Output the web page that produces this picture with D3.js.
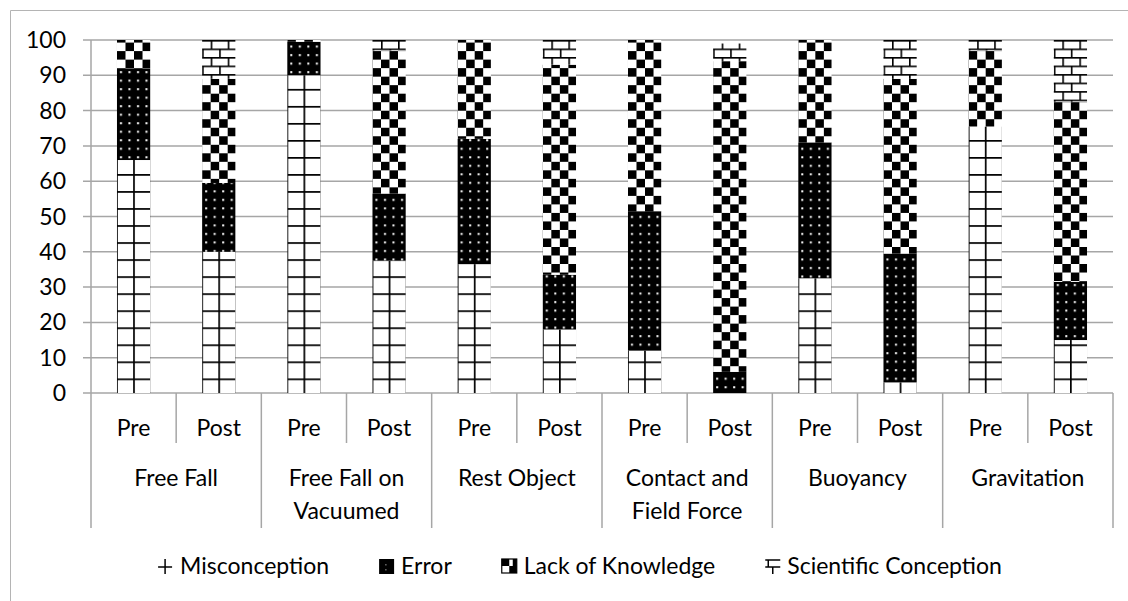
<!DOCTYPE html>
<html><head><meta charset="utf-8">
<script src="https://cdn.jsdelivr.net/npm/d3@7"></script>
<style>html,body{margin:0;padding:0;background:#fff;} svg{display:block;}</style>
</head><body>
<svg id="chart" width="1128" height="601"></svg>
<script>
// ---- data ----
const groups = ["Free Fall", "Free Fall on\nVacuumed", "Rest Object", "Contact and\nField Force", "Buoyancy", "Gravitation"];
const phases = ["Pre", "Post"];
const seriesNames = ["Misconception", "Error", "Lack of Knowledge", "Scientific Conception"];
const misconception = [66, 40, 90, 37.5, 36.5, 18, 12, 0, 32.5, 3, 75.5, 15];
const error =         [26, 19.5, 9.5, 19, 35.5, 15.5, 39.5, 6, 38.5, 36.5, 0, 16.5];
const lackKnowledge = [8, 29.5, 0.5, 40.5, 28, 59.5, 48.5, 88, 29, 49.5, 21.5, 51];
const scientific =    [0, 11, 0, 3, 0, 7, 0, 5, 0, 11, 3, 17.5];
const yTicks = [0, 10, 20, 30, 40, 50, 60, 70, 80, 90, 100];

// ---- layout ----
const FONT = "Lato, 'Open Sans', sans-serif";
const FS = 23;
const plot = {left: 91, right: 1113, top: 40, bottom: 393};
const gridCol = "#a6a6a6";

const svg = d3.select("#chart");
const slots = [];
groups.forEach((g, gi) => phases.forEach((p, pi) => slots.push({g: gi, p: p, key: gi + "-" + p})));
const rows = slots.map((s, i) => ({
  key: s.key, phase: s.p, group: s.g,
  "Misconception": misconception[i], "Error": error[i],
  "Lack of Knowledge": lackKnowledge[i], "Scientific Conception": scientific[i]
}));

const x = d3.scaleBand().domain(slots.map(s => s.key)).range([plot.left, plot.right])
  .paddingInner(0.61).paddingOuter(0.305);
const y = d3.scaleLinear().domain([0, 100]).range([plot.bottom, plot.top]);
const step = x.step();
const firstLeft = x(slots[0].key);
const P = step / 5; // pattern period

// ---- patterns ----
const defs = svg.append("defs");
const pm = defs.append("pattern").attr("id", "pMis").attr("patternUnits", "userSpaceOnUse")
  .attr("width", P).attr("height", P).attr("x", firstLeft + P - 0.85).attr("y", 379.3 - 0.85);
pm.append("rect").attr("width", P).attr("height", P).attr("fill", "#fff");
pm.append("rect").attr("x", 0).attr("y", 0).attr("width", 1.7).attr("height", P).attr("fill", "#000");
pm.append("rect").attr("x", 0).attr("y", 0).attr("width", P).attr("height", 1.7).attr("fill", "#000");
const pe = defs.append("pattern").attr("id", "pErr").attr("patternUnits", "userSpaceOnUse")
  .attr("width", P / 2).attr("height", P / 2).attr("x", firstLeft).attr("y", 0);
pe.append("rect").attr("width", P / 2).attr("height", P / 2).attr("fill", "#000");
pe.append("rect").attr("x", 3).attr("y", 3).attr("width", 2).attr("height", 2).attr("fill", "#fff");
const pl = defs.append("pattern").attr("id", "pLack").attr("patternUnits", "userSpaceOnUse")
  .attr("width", P).attr("height", P).attr("x", firstLeft).attr("y", 0);
pl.append("rect").attr("width", P).attr("height", P).attr("fill", "#fff");
pl.append("rect").attr("x", 0).attr("y", 0).attr("width", P / 2).attr("height", P / 2).attr("fill", "#000");
pl.append("rect").attr("x", P / 2).attr("y", P / 2).attr("width", P / 2).attr("height", P / 2).attr("fill", "#000");
const pb = defs.append("pattern").attr("id", "pSci").attr("patternUnits", "userSpaceOnUse")
  .attr("width", P).attr("height", P).attr("x", firstLeft + P / 2).attr("y", 40);
pb.append("rect").attr("width", P).attr("height", P).attr("fill", "#fff");
pb.append("rect").attr("x", 0).attr("y", 0).attr("width", P).attr("height", 1.6).attr("fill", "#000");
pb.append("rect").attr("x", 0).attr("y", P / 2).attr("width", P).attr("height", 1.6).attr("fill", "#000");
pb.append("rect").attr("x", 0).attr("y", 0).attr("width", 1.6).attr("height", P / 2).attr("fill", "#000");
pb.append("rect").attr("x", P / 2).attr("y", P / 2).attr("width", 1.6).attr("height", P / 2).attr("fill", "#000");

const fills = {"Misconception": "url(#pMis)", "Error": "url(#pErr)", "Lack of Knowledge": "url(#pLack)", "Scientific Conception": "url(#pSci)"};

// ---- outer frame (top & left visible) ----
svg.append("line").attr("x1", 10.5).attr("x2", 1128).attr("y1", 10.5).attr("y2", 10.5).attr("stroke", "#b4b4b4").attr("stroke-width", 1);
svg.append("line").attr("x1", 10.5).attr("x2", 10.5).attr("y1", 10.5).attr("y2", 601).attr("stroke", "#b4b4b4").attr("stroke-width", 1);

// ---- gridlines + y labels ----
svg.append("g").selectAll("line").data(yTicks).join("line")
  .attr("x1", plot.left - 8).attr("x2", plot.right)
  .attr("y1", d => y(d)).attr("y2", d => y(d))
  .attr("stroke", gridCol).attr("stroke-width", 1.5);
svg.append("g").selectAll("text").data(yTicks).join("text")
  .attr("x", 66).attr("y", d => y(d)).attr("dy", "0.35em")
  .attr("text-anchor", "end").attr("font-family", FONT).attr("font-size", FS).attr("fill", "#000")
  .text(d => d);

// ---- bars ----
const stack = d3.stack().keys(seriesNames)(rows);
svg.append("g").selectAll("g").data(stack).join("g")
  .attr("fill", d => fills[d.key])
  .selectAll("rect").data(d => d).join("rect")
  .attr("x", d => x(d.data.key)).attr("width", x.bandwidth())
  .attr("y", d => y(d[1])).attr("height", d => Math.max(0, y(d[0]) - y(d[1])));

// ---- axes lines ----
svg.append("line").attr("x1", plot.left).attr("x2", plot.left).attr("y1", plot.top).attr("y2", plot.bottom)
  .attr("stroke", gridCol).attr("stroke-width", 1.5);
const innerSep = groups.map((g, gi) => x(gi + "-Post") - (step - x.bandwidth()) / 2);
svg.append("g").selectAll("line").data(innerSep).join("line")
  .attr("x1", d => d).attr("x2", d => d).attr("y1", plot.bottom).attr("y2", 443)
  .attr("stroke", gridCol).attr("stroke-width", 1.5);
const groupSep = groups.map((g, gi) => x(gi + "-Pre") - (step - x.bandwidth()) / 2).concat([plot.right]);
svg.append("g").selectAll("line").data(groupSep).join("line")
  .attr("x1", d => d).attr("x2", d => d).attr("y1", plot.bottom).attr("y2", 528)
  .attr("stroke", gridCol).attr("stroke-width", 1.5);

// ---- category labels ----
svg.append("g").selectAll("text").data(slots).join("text")
  .attr("x", d => x(d.key) + x.bandwidth() / 2).attr("y", 428).attr("dy", "0.35em")
  .attr("text-anchor", "middle").attr("font-family", FONT).attr("font-size", FS).attr("fill", "#000")
  .text(d => d.p);
const gl = svg.append("g").selectAll("text").data(groups).join("text")
  .attr("text-anchor", "middle").attr("font-family", FONT).attr("font-size", FS).attr("fill", "#000")
  .attr("x", (d, i) => (x(i + "-Pre") + x(i + "-Post") + x.bandwidth()) / 2);
gl.each(function(d) {
  const t = d3.select(this);
  d.split("\n").forEach((ln, li) => {
    t.append("tspan").attr("x", t.attr("x")).attr("y", 478 + li * 33).attr("dy", "0.35em").text(ln);
  });
});

// ---- legend ----
const legY = 566;
const leg = svg.append("g");
let lx = 0;
seriesNames.forEach((name, i) => {
  const g = leg.append("g").attr("transform", `translate(${lx},${legY})`);
  if (i === 0) {
    g.append("line").attr("x1", 0).attr("x2", 14).attr("y1", 1).attr("y2", 1).attr("stroke", "#000").attr("stroke-width", 1.5);
    g.append("line").attr("x1", 7).attr("x2", 7).attr("y1", -7).attr("y2", 8).attr("stroke", "#000").attr("stroke-width", 1.5);
  } else if (i === 1) {
    g.append("rect").attr("x", 0).attr("y", -7).attr("width", 15).attr("height", 15).attr("fill", "#000");
    g.append("rect").attr("x", 6).attr("y", -2).attr("width", 1.5).attr("height", 1.5).attr("fill", "#666");
    g.append("rect").attr("x", 6).attr("y", 3).attr("width", 1.5).attr("height", 1.5).attr("fill", "#666");
  } else if (i === 2) {
    g.append("rect").attr("x", 0).attr("y", -7).attr("width", 15).attr("height", 14).attr("fill", "#fff").attr("stroke", "#000").attr("stroke-width", 1.2);
    g.append("rect").attr("x", 0).attr("y", -7).attr("width", 7.5).attr("height", 7).attr("fill", "#000");
    g.append("rect").attr("x", 7.5).attr("y", 0).attr("width", 7.5).attr("height", 7).attr("fill", "#000");
    g.append("rect").attr("x", 11).attr("y", -7).attr("width", 4).attr("height", 7).attr("fill", "#000");
  } else {
    g.append("line").attr("x1", 0).attr("x2", 15).attr("y1", -6).attr("y2", -6).attr("stroke", "#000").attr("stroke-width", 1.5);
    g.append("line").attr("x1", 0).attr("x2", 15).attr("y1", 1).attr("y2", 1).attr("stroke", "#000").attr("stroke-width", 1.5);
    g.append("line").attr("x1", 7.5).attr("x2", 7.5).attr("y1", 1).attr("y2", 8).attr("stroke", "#000").attr("stroke-width", 1.5);
    g.append("line").attr("x1", 3).attr("x2", 3).attr("y1", -6).attr("y2", 1).attr("stroke", "#000").attr("stroke-width", 1.5);
  }
  const t = g.append("text").attr("x", 22).attr("y", 0).attr("dy", "0.35em")
    .attr("font-family", FONT).attr("font-size", FS).attr("fill", "#000").text(name);
  const w = t.node().getComputedTextLength();
  lx += 22 + w + (i < seriesNames.length - 1 ? 50 : 0);
});
const legCenter = 580;
leg.attr("transform", `translate(${legCenter - lx / 2},0)`);
</script>
</body></html>
